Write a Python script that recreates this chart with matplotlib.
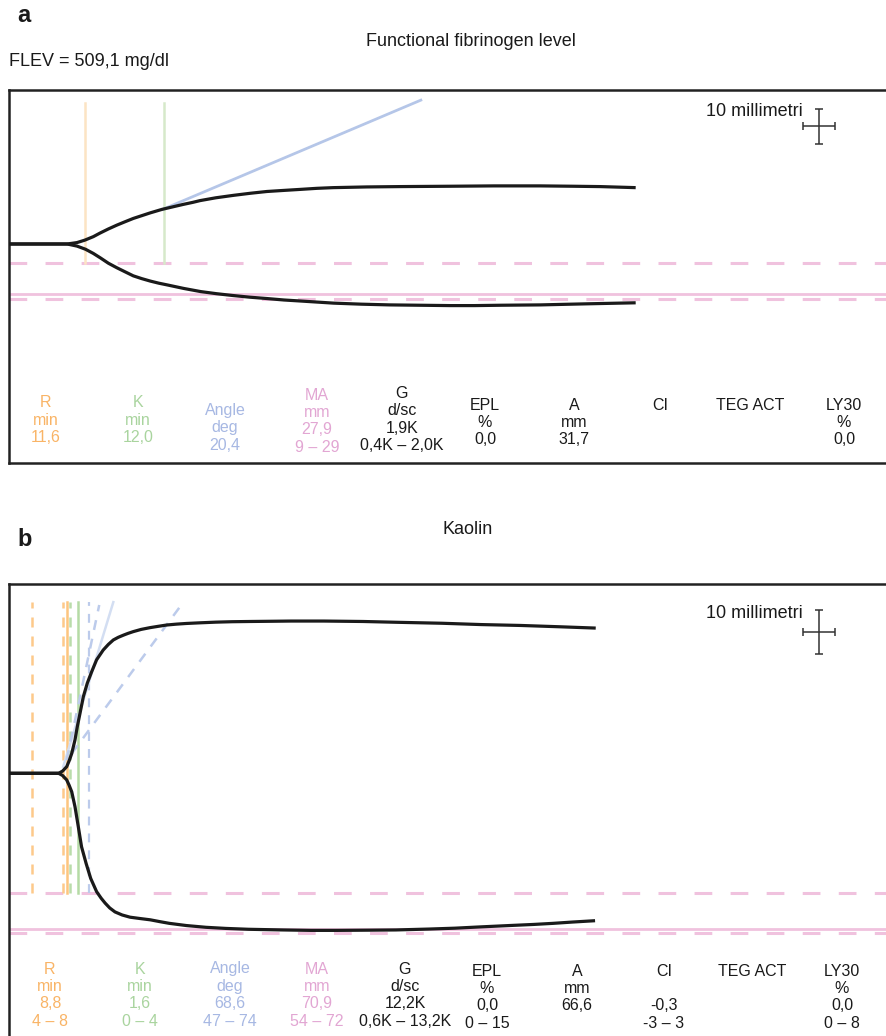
import matplotlib
matplotlib.use('Agg')
import matplotlib.pyplot as plt

plt.rcParams['font.family'] = ['Liberation Sans', 'DejaVu Sans']

# ---------------- data (time in min, amplitude in mm) ----------------
# Panel a : Functional fibrinogen
a_up_t = [0, 8.8, 10.3, 11.5, 12.8, 13.8, 15.1, 16.4, 17.7, 18.9, 20.2, 21.5, 23.3, 24.9, 26.5, 28.0, 29.1, 31.5,
          34.2, 36.8, 39.3, 41.8, 44.4, 46.9, 49.4, 54.5, 59.6, 67.3, 74.0, 81.0, 86.0, 90.2, 95.6]
a_up_y = [0, 0, 0.4, 1.1, 2.1, 3.1, 4.3, 5.4, 6.4, 7.3, 8.1, 8.9, 9.9, 10.6, 11.3, 11.9, 12.4, 13.2,
          13.9, 14.5, 15.0, 15.3, 15.6, 15.9, 16.1, 16.3, 16.4, 16.5, 16.6, 16.6, 16.5, 16.4, 16.1]
a_lo_t = [0, 8.8, 10.3, 11.6, 12.8, 13.9, 15.1, 16.4, 17.7, 18.9, 20.2, 21.5, 22.8, 24.1, 26.6, 29.2, 31.6,
          34.0, 36.7, 39.4, 41.9, 44.5, 47.0, 49.5, 53.8, 58.0, 62.6, 67.3, 71.0, 75.0, 78.0, 81.1, 84.5, 88.0, 91.8, 95.6]
a_lo_y = [0, 0, -0.6, -1.5, -2.7, -4.0, -5.5, -6.8, -8.0, -9.1, -9.9, -10.6, -11.2, -11.7, -12.7, -13.6, -14.2,
          -14.7, -15.2, -15.6, -16.0, -16.3, -16.6, -16.9, -17.2, -17.4, -17.5, -17.6, -17.6, -17.5, -17.45, -17.4,
          -17.25, -17.1, -16.95, -16.8]
a_R, a_K = 11.6, 12.0
a_angle_t = [23.4, 62.8]
a_angle_y = [9.9, 41.1]
a_pink_dashed = [-5.5, -15.7]
a_pink_solid = [-14.3]

# Panel b : Kaolin
b_up_t = [0, 7.5, 8.1, 8.73, 9.1, 9.5, 10.0, 10.35, 10.76, 11.27, 11.88, 12.55, 13.3, 14.3, 15.1, 15.85, 16.6,
          17.4, 18.1, 18.9, 20.1, 21.45, 22.7, 24.0, 25.5, 27.0, 29.1, 31.5, 34.0, 36.7, 40.0, 43.0, 48.0,
          54.0, 59.7, 66.0, 72.0, 78.0, 84.0, 89.5]
b_up_y = [0, 0, 0.5, 1.5, 2.8, 4.5, 7.6, 10.6, 13.6, 17.4, 20.5, 23.1, 25.8, 28.0, 29.3, 30.3, 30.9,
          31.4, 31.8, 32.2, 32.7, 33.1, 33.4, 33.7, 33.9, 34.05, 34.2, 34.35, 34.45, 34.5, 34.55, 34.6, 34.6,
          34.5, 34.3, 34.1, 33.8, 33.6, 33.3, 33.0]
b_lo_t = [0, 7.5, 8.1, 8.73, 9.1, 9.5, 10.0, 10.5, 11.0, 11.7, 12.4, 13.3, 14.0, 14.6, 15.3, 16.1, 17.2,
          18.4, 19.9, 21.5, 22.9, 24.4, 27.0, 30.0, 33.0, 36.5, 41.7, 46.0, 50.0, 55.0, 59.0, 64.0, 68.0,
          72.0, 76.3, 80.0, 83.0, 86.0, 89.4]
b_lo_y = [0, 0, -0.5, -1.5, -2.7, -4.2, -7.6, -12.1, -16.7, -20.5, -23.9, -26.9, -28.4, -29.5, -30.6, -31.5, -32.2,
          -32.7, -33.0, -33.3, -33.7, -34.1, -34.6, -35.0, -35.25, -35.45, -35.6, -35.7, -35.7, -35.65, -35.6,
          -35.4, -35.2, -34.9, -34.6, -34.35, -34.1, -33.8, -33.5]
b_R, b_K = 8.8, 1.6
b_R_range_lines = [3.5, 8.1]
b_K_range_line = 9.3
b_angle_vline = 12.2
b_angle_t = [8.2, 15.85]
b_angle_y = [1.5, 38.9]
b_angle_lo_t = [9.5, 26.5]
b_angle_lo_y = [4.5, 38.8]
b_angle_hi_t = [8.73, 13.7]
b_angle_hi_y = [3.0, 38.25]
b_pink_dashed = [-27.3, -36.4]
b_pink_solid = [-35.3]

# Tables
cols_a = [['R', 'min', '11,6'], ['K', 'min', '12,0'], ['Angle', 'deg', '20,4'],
          ['MA', 'mm', '27,9', '9 – 29'], ['G', 'd/sc', '1,9K', '0,4K – 2,0K'],
          ['EPL', '%', '0,0'], ['A', 'mm', '31,7'], ['CI'], ['TEG ACT'], ['LY30', '%', '0,0']]
cols_b = [['R', 'min', '8,8', '4 – 8'], ['K', 'min', '1,6', '0 – 4'], ['Angle', 'deg', '68,6', '47 – 74'],
          ['MA', 'mm', '70,9', '54 – 72'], ['G', 'd/sc', '12,2K', '0,6K – 13,2K'],
          ['EPL', '%', '0,0', '0 – 15'], ['A', 'mm', '66,6'], ['CI', '', '-0,3', '-3 – 3'],
          ['TEG ACT'], ['LY30', '%', '0,0', '0 – 8']]

# ---------------- style ----------------
ORANGE = '#F9B466'
GREEN = '#A9D49E'
BLUE = '#A7B8E3'
PINK = '#E2A6D3'
BLACK = '#1a1a1a'
col_colors = [ORANGE, GREEN, BLUE, PINK, BLACK, BLACK, BLACK, BLACK, BLACK, BLACK]
PINKLINE = '#F0C2DE'

W, H = 887, 1036
fig = plt.figure(figsize=(W / 100, H / 100), dpi=100)


def fx(px):
    return px / W


def fy(py):
    return 1 - py / H


def make_axes(top_px, bot_px, ylim):
    left_px, right_px = 9.5, 900
    ax = fig.add_axes([fx(left_px), fy(bot_px), (right_px - left_px) / W, (bot_px - top_px) / H])
    ax.set_xlim(0, (right_px - left_px) / 6.55)
    ax.set_ylim(*ylim)
    ax.set_xticks([])
    ax.set_yticks([])
    for s in ax.spines.values():
        s.set_linewidth(1.8)
        s.set_color('#222222')
    ax.spines['right'].set_visible(False)
    return ax


def pink_lines(ax, dashed, solid):
    for y in dashed:
        ax.axhline(y, color=PINKLINE, lw=2.2, dashes=(5.8, 6.0), zorder=1)
    for y in solid:
        ax.axhline(y, color=PINKLINE, lw=2.0, zorder=1)


def crosshair(ax, x, y):
    ax.errorbar([x], [y], xerr=2.5, yerr=5, fmt='none', ecolor='#333333',
                elinewidth=1.1, capsize=2.6, capthick=1.1, zorder=5)


def curve(ax, t, y):
    ax.plot(t, y, color=BLACK, lw=2.3, zorder=4, solid_joinstyle='round', solid_capstyle='butt')


def table(cols, xs, tops, dy=17.5):
    for lines, x, top, c in zip(cols, xs, tops, col_colors):
        for i, s in enumerate(lines):
            if s:
                fig.text(fx(x), fy(top + i * dy), s, ha='center', va='center',
                         color=c, fontsize=11.5)


# ---------------- panel a ----------------
axa = make_axes(89.5, 462.5, (-62.43, 44.14))
pink_lines(axa, a_pink_dashed, a_pink_solid)
vtop_a, vbot_a = 40.4, a_pink_dashed[0]
axa.plot([a_R, a_R], [vbot_a, vtop_a], color='#FCE4C4', lw=1.8, zorder=2)
axa.plot([a_R + a_K, a_R + a_K], [vbot_a, vtop_a], color='#D6E9CA', lw=1.8, zorder=2)
axa.plot(a_angle_t, a_angle_y, color='#B5C6E8', lw=2.0, zorder=2)
curve(axa, a_up_t, a_up_y)
curve(axa, a_lo_t, a_lo_y)
crosshair(axa, 123.6, 33.6)
fig.text(fx(803), fy(112), '10 millimetri', ha='right', va='center', fontsize=13, color=BLACK)

fig.text(fx(17), fy(15), 'a', ha='left', va='center', fontsize=17, fontweight='bold', color=BLACK)
fig.text(fx(471), fy(42), 'Functional fibrinogen level', ha='center', va='center', fontsize=13, color=BLACK)
fig.text(fx(9), fy(61), 'FLEV = 509,1 mg/dl', ha='left', va='center', fontsize=13, color=BLACK)

table(cols_a, [46, 138, 225, 317, 402, 485, 574, 660, 750, 844],
      [403, 403, 410, 395, 393, 405, 405, 405, 405, 405])

# ---------------- panel b ----------------
axb = make_axes(584, 1048.0, (-62.43, 43.02))
pink_lines(axb, b_pink_dashed, b_pink_solid)
vtop_b, vbot_b = 38.9, b_pink_dashed[0]
for t in b_R_range_lines:
    axb.plot([t, t], [vbot_b, vtop_b], color='#FDC98A', lw=1.8, dashes=(4, 3.6), zorder=2)
axb.plot([b_R, b_R], [vbot_b, vtop_b], color='#FDC57F', lw=1.8, zorder=2)
axb.plot([b_K_range_line, b_K_range_line], [vbot_b, vtop_b], color='#B9DCAA', lw=1.8, dashes=(4, 3.6), zorder=2)
axb.plot([b_R + b_K, b_R + b_K], [vbot_b, vtop_b], color='#B5DBA5', lw=1.8, zorder=2)
axb.plot([b_angle_vline, b_angle_vline], [vbot_b, vtop_b], color='#BCCBEB', lw=1.6, dashes=(4, 3.6), zorder=2)
axb.plot(b_angle_t, b_angle_y, color='#D3DEF2', lw=1.8, zorder=2)
axb.plot(b_angle_hi_t, b_angle_hi_y, color='#BCCBEB', lw=1.8, dashes=(4, 3.6), zorder=2)
axb.plot(b_angle_lo_t, b_angle_lo_y, color='#BCCBEB', lw=1.8, dashes=(4, 3.6), zorder=2)
curve(axb, b_up_t, b_up_y)
curve(axb, b_lo_t, b_lo_y)
crosshair(axb, 123.6, 32.0)
fig.text(fx(803), fy(613), '10 millimetri', ha='right', va='center', fontsize=13, color=BLACK)

fig.text(fx(17), fy(540), 'b', ha='left', va='center', fontsize=17, fontweight='bold', color=BLACK)
fig.text(fx(468), fy(530), 'Kaolin', ha='center', va='center', fontsize=13, color=BLACK)

table(cols_b, [50, 140, 230, 317, 405, 487, 577, 664, 752, 842],
      [969, 969, 969, 969, 969, 971, 971, 971, 971, 971])

fig.savefig('out.png', dpi=100)
